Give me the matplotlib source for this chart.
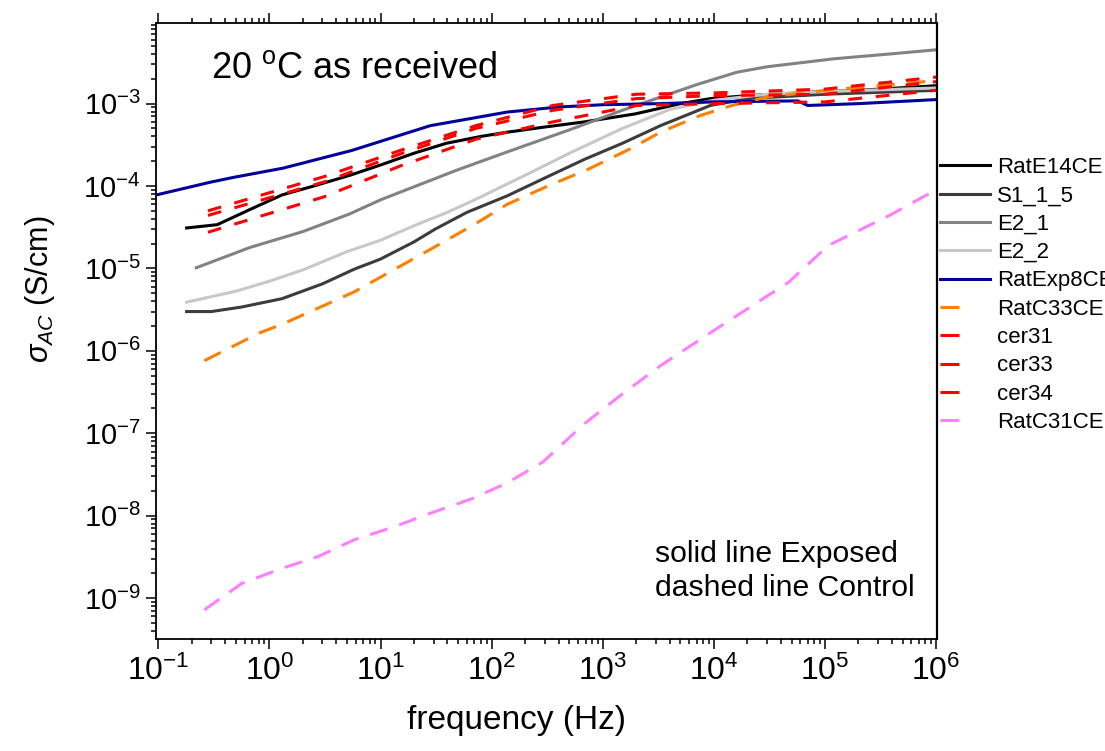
import numpy as np
import matplotlib

matplotlib.use("Agg")
import matplotlib.pyplot as plt
from matplotlib.lines import Line2D
from matplotlib.ticker import FixedLocator, LogFormatterSciNotation, NullFormatter

plt.rcParams["font.family"] = ["Liberation Sans", "DejaVu Sans"]
plt.rcParams["mathtext.fontset"] = "custom"
plt.rcParams["mathtext.rm"] = "Liberation Sans"
plt.rcParams["mathtext.it"] = "Liberation Sans:italic"

# ---- data (frequency in Hz, sigma_AC in S/cm) ----
f_E14 = [0.18, 0.34, 0.67, 1.3, 2.5, 5.3, 10, 20, 39, 80, 138, 300, 680, 1950, 5000, 9300, 2e4, 7.8e4, 2e5, 1e6]
s_E14 = [3.1e-5, 3.4e-5, 5.2e-5, 7.8e-5, 1.0e-4, 1.35e-4, 1.8e-4, 2.5e-4, 3.3e-4, 4e-4, 4.5e-4, 5.2e-4, 6e-4,
         7.5e-4, 1.0e-3, 1.15e-3, 1.25e-3, 1.38e-3, 1.45e-3, 1.65e-3]

f_S1 = [0.18, 0.3, 0.56, 1.3, 3, 5.8, 10, 20, 31, 60, 138, 300, 680, 1500, 3300, 9300, 2e4, 1e5, 1e6]
s_S1 = [3.0e-6, 3.0e-6, 3.4e-6, 4.3e-6, 6.5e-6, 9.8e-6, 1.3e-5, 2.1e-5, 3e-5, 4.8e-5, 7.6e-5, 1.25e-4, 2.1e-4,
        3.3e-4, 5.4e-4, 9.5e-4, 1.15e-3, 1.3e-3, 1.45e-3]

f_E21 = [0.22, 0.67, 2, 5.3, 10, 48, 150, 500, 1500, 3300, 7000, 1.6e4, 3e4, 1.2e5, 3.8e5, 1e6]
s_E21 = [1.02e-5, 1.8e-5, 2.8e-5, 4.6e-5, 6.8e-5, 1.55e-4, 2.7e-4, 4.8e-4, 8.3e-4, 1.2e-3, 1.7e-3, 2.4e-3,
         2.8e-3, 3.5e-3, 4e-3, 4.5e-3]

f_E22 = [0.18, 0.5, 1, 2, 5, 10, 20, 40, 72, 200, 500, 1500, 4000, 1e4, 3e4, 1e5, 1e6]
s_E22 = [3.9e-6, 5.3e-6, 7e-6, 9.6e-6, 1.6e-5, 2.2e-5, 3.3e-5, 4.8e-5, 6.9e-5, 1.35e-4, 2.5e-4, 5e-4, 8.5e-4,
         1.1e-3, 1.3e-3, 1.4e-3, 1.55e-3]

f_Exp8 = [0.1, 0.3, 0.47, 1.33, 5.5, 28, 138, 400, 1000, 3300, 1e4, 5.7e4, 7e4, 2e5, 1e6]
s_Exp8 = [7.9e-5, 1.12e-4, 1.27e-4, 1.65e-4, 2.7e-4, 5.4e-4, 7.9e-4, 9.1e-4, 9.7e-4, 1.0e-3, 1.05e-3, 1.08e-3,
          9.5e-4, 1.0e-3, 1.12e-3]

f_C33 = [0.26, 0.82, 1.3, 5.8, 28, 72, 138, 320, 740, 1740, 3300, 7600, 1.45e4, 3e4, 1e5, 1e6]
s_C33 = [7.6e-7, 1.66e-6, 2.1e-6, 5.2e-6, 1.7e-5, 3.5e-5, 6e-5, 1e-4, 1.6e-4, 2.8e-4, 4.5e-4, 7.2e-4, 9.5e-4,
         1.2e-3, 1.45e-3, 1.9e-3]

f_cer = [0.28, 3.1, 15, 72, 355, 2000, 1e4, 1e5, 1e6]
s_cer31 = [5e-5, 1.3e-4, 2.7e-4, 5.4e-4, 9.5e-4, 1.3e-3, 1.35e-3, 1.5e-3, 2.1e-3]
s_cer33 = [4.4e-5, 1.12e-4, 2.45e-4, 5e-4, 8.3e-4, 1.15e-3, 1.25e-3, 1.3e-3, 1.85e-3]
s_cer34 = [2.75e-5, 7.4e-5, 1.75e-4, 3.7e-4, 6e-4, 9.5e-4, 1.0e-3, 1.05e-3, 1.45e-3]

f_C31 = [0.26, 0.56, 1.3, 2.75, 5.8, 13.5, 28, 66, 138, 290, 680, 1500, 3300, 9300, 4.7e4, 1.07e5, 3.8e5, 1e6]
s_C31 = [7.2e-10, 1.5e-9, 2.3e-9, 3.2e-9, 5.1e-9, 7.4e-9, 1.07e-8, 1.6e-8, 2.5e-8, 4.5e-8, 1.3e-7, 3e-7,
         6.6e-7, 1.66e-6, 6.8e-6, 1.9e-5, 4.4e-5, 9e-5]

labels = ["RatE14CE", "S1_1_5", "E2_1", "E2_2", "RatExp8CE", "RatC33CE", "cer31", "cer33", "cer34", "RatC31CE"]
colors = ["#000000", "#3c3c3c", "#828282", "#c8c8c8", "#00009c", "#ff8000", "#ff0000", "#ff0000", "#ff0000", "#ff80ff"]
dashed = [False, False, False, False, False, True, True, True, True, True]

x_decades = [-1, 0, 1, 2, 3, 4, 5, 6]
y_decades = [-9, -8, -7, -6, -5, -4, -3]

series = [(f_E14, s_E14), (f_S1, s_S1), (f_E21, s_E21), (f_E22, s_E22), (f_Exp8, s_Exp8),
          (f_C33, s_C33), (f_cer, s_cer31), (f_cer, s_cer33), (f_cer, s_cer34), (f_C31, s_C31)]

fig = plt.figure(figsize=(11.05, 7.51), dpi=100)
ax = fig.add_axes([0.1412, 0.1487, 0.7070, 0.8211])

lw = 2.2
handles = []
for (fx, sy), lab, col, dsh in zip(series, labels, colors, dashed):
    if dsh:
        pat = (4.5, 4.5) if col == "#ff0000" else (6, 4)
        ax.plot(fx, sy, color=col, lw=lw, dashes=pat)
        handles.append(Line2D([], [], color=col, lw=lw, dashes=(6.2, 40)))
    else:
        ax.plot(fx, sy, color=col, lw=lw)
        handles.append(Line2D([], [], color=col, lw=lw))

ax.set_xscale("log")
ax.set_yscale("log")
ax.set_xlim(10 ** -1.02, 10 ** 6.01)
ax.set_ylim(10 ** -9.5, 9.6e-3)

# major ticks only at the labelled decades, minor ticks 2..9 inside the view
xmin_t = [k * 10.0 ** d for d in range(-2, 7) for k in range(2, 10)]
ymin_t = [k * 10.0 ** d for d in range(-10, -2) for k in range(2, 10)]
ax.xaxis.set_major_locator(FixedLocator([10.0 ** d for d in x_decades]))
ax.yaxis.set_major_locator(FixedLocator([10.0 ** d for d in y_decades]))
ax.xaxis.set_minor_locator(FixedLocator([v for v in xmin_t if 10 ** -1.02 < v < 10 ** 6.01]))
ax.yaxis.set_minor_locator(FixedLocator([v for v in ymin_t if 10 ** -9.5 < v < 9.6e-3]))
ax.xaxis.set_major_formatter(LogFormatterSciNotation())
ax.yaxis.set_major_formatter(LogFormatterSciNotation())
ax.xaxis.set_minor_formatter(NullFormatter())
ax.yaxis.set_minor_formatter(NullFormatter())

ax.tick_params(which="both", direction="out", top=True, right=False, width=1.1)
ax.tick_params(which="major", length=7)
ax.tick_params(which="minor", length=3.5)
ax.tick_params(axis="y", labelsize=21, pad=4)
ax.tick_params(axis="x", labelsize=23, pad=5)
for sp in ax.spines.values():
    sp.set_linewidth(1.3)
ax.spines["right"].set_linewidth(1.6)

ax.set_xlabel("frequency (Hz)", fontsize=24)
ax.xaxis.set_label_coords(0.461, -0.107)
ax.set_ylabel(r"$\sigma_{AC}$ (S/cm)", fontsize=22)
ax.yaxis.set_label_coords(-0.127, 0.567)

ax.text(0.07, 0.925, r"20 $^{\mathdefault{o}}$C as received", transform=ax.transAxes,
        fontsize=26, va="center", ha="left")
ax.text(0.639, 0.111, "solid line Exposed\ndashed line Control", transform=ax.transAxes,
        fontsize=21.7, va="center", ha="left", linespacing=1.25)

fig.legend(handles, labels, loc="upper left", bbox_to_anchor=(940 / 1105, 1 - 157 / 751),
           frameon=False, fontsize=16, borderpad=0, borderaxespad=0, handlelength=2.25,
           handletextpad=0.32, labelspacing=0.33)

fig.savefig("out.png", dpi=100)
